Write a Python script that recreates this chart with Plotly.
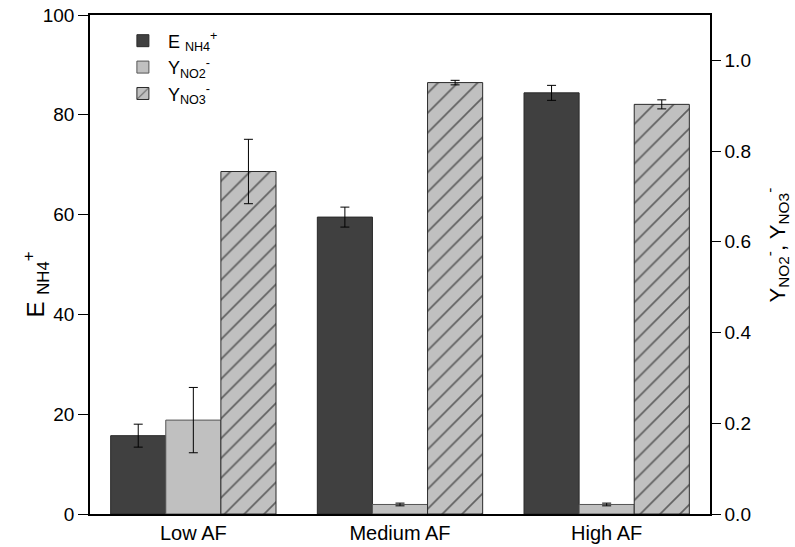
import plotly.graph_objects as go

categories = ["Low AF", "Medium AF", "High AF"]
e_nh4 = [15.7, 59.5, 84.4]
e_nh4_err = [2.3, 2.0, 1.5]
y_no2 = [0.207, 0.021, 0.021]
y_no2_err = [0.072, 0.003, 0.003]
y_no3 = [0.755, 0.951, 0.903]
y_no3_err = [0.071, 0.005, 0.010]

FONT = "Liberation Sans, Arial, sans-serif"
bw = 0.8 / 3
line = dict(color="#2a2a2a", width=1)
err = dict(type="data", color="black", thickness=1, width=4.5)

fig = go.Figure()
fig.add_trace(go.Bar(
    x=categories, y=e_nh4, name="E <sub>NH4</sub><sup>+</sup>",
    error_y=dict(array=e_nh4_err, **err),
    marker=dict(color="#404040", line=line),
    width=bw, offset=-0.4, yaxis="y"))
fig.add_trace(go.Bar(
    x=categories, y=y_no2, name="Y<sub>NO2</sub><sup>-</sup>",
    error_y=dict(array=y_no2_err, **err),
    marker=dict(color="#c0c0c0", line=dict(color="#555555", width=1)),
    width=bw, offset=-0.4 + bw, yaxis="y2"))
fig.add_trace(go.Bar(
    x=categories, y=y_no3, name="Y<sub>NO3</sub><sup>-</sup>",
    error_y=dict(array=y_no3_err, **err),
    marker=dict(color="#c0c0c0", line=line,
                pattern=dict(shape="/", fgcolor="black", bgcolor="#c0c0c0",
                             size=14, solidity=0.12)),
    width=bw, offset=-0.4 + 2 * bw, yaxis="y2"))

fig.update_layout(
    width=795, height=547,
    margin=dict(l=90, r=85, t=15, b=33),
    paper_bgcolor="white", plot_bgcolor="white",
    barmode="overlay",
    font=dict(family=FONT, size=19, color="black"),
    showlegend=True,
    legend=dict(x=0.045, y=0.985, xanchor="left", yanchor="top",
                bgcolor="rgba(0,0,0,0)", font=dict(size=18),
                itemwidth=40, tracegroupgap=0),
    xaxis=dict(range=[-0.5, 2.5], showline=True, linecolor="black", linewidth=1.5,
               mirror=True, ticks="", showgrid=False, automargin=False,
               tickfont=dict(size=20)),
    yaxis=dict(range=[0, 100], tickvals=[0, 20, 40, 60, 80, 100],
               showline=True, linecolor="black", linewidth=1.5, automargin=False,
               ticks="outside", ticklen=10, tickwidth=1.2, tickcolor="black",
               showgrid=False, zeroline=False, tickfont=dict(size=19)),
    yaxis2=dict(range=[0, 1.1], tickvals=[0, 0.2, 0.4, 0.6, 0.8, 1.0],
                tickformat=".1f", overlaying="y", side="right", automargin=False,
                showline=True, linecolor="black", linewidth=1.5,
                ticks="outside", ticklen=9, tickwidth=1.2, tickcolor="black",
                showgrid=False, zeroline=False, tickfont=dict(size=19)),
    annotations=[
        dict(text="E <sub>NH4</sub><sup>+</sup>", textangle=-90, showarrow=False,
             xref="paper", yref="paper", x=-0.087, y=0.46,
             xanchor="center", yanchor="middle", font=dict(size=24)),
        dict(text="Y<sub>NO2</sub><sup>-</sup>, Y<sub>NO3</sub><sup>-</sup>",
             textangle=-90, showarrow=False,
             xref="paper", yref="paper", x=1.108, y=0.54,
             xanchor="center", yanchor="middle", font=dict(size=22)),
    ],
)

fig.write_html("out.html")
